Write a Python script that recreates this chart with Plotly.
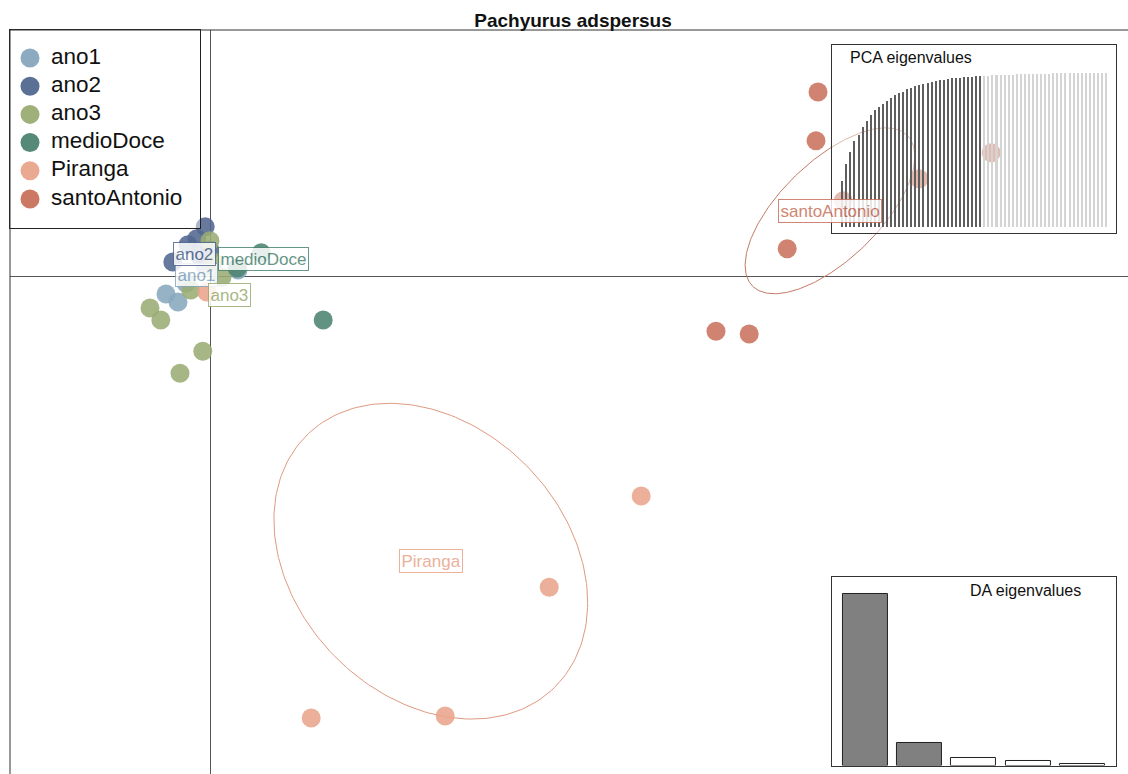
import numpy as np
import plotly.graph_objects as go

FONT = "Liberation Sans, Arial, sans-serif"

groups = ["ano1", "ano2", "ano3", "medioDoce", "Piranga", "santoAntonio"]
colors = ["#87a7bd", "#52688f", "#9aac73", "#4c8471", "#e9a48b", "#c8725c"]

# Individual scores on the first two discriminant functions
ano1_ld1 = [-1.10, -0.80, 0.70, -0.12, -0.60]
ano1_ld2 = [-0.45, -0.65, 0.15, 0.25, -0.18]
ano2_ld1 = [-0.12, -0.33, -0.55, -0.93, -0.25, 0.00]
ano2_ld2 = [1.23, 0.93, 0.78, 0.35, 0.50, 0.65]
ano3_ld1 = [-1.50, -1.23, -0.18, -0.75, 0.00, -0.48, 0.30, 0.08]
ano3_ld2 = [-0.80, -1.10, -1.88, -2.43, 0.88, -0.35, -0.03, 0.35]
medioDoce_ld1 = [2.83, 1.28, 0.68]
medioDoce_ld2 = [-1.10, 0.58, 0.20]
piranga_ld1 = [10.78, 8.48, 5.88, 2.53, -0.08]
piranga_ld2 = [-5.50, -7.78, -11.00, -11.05, -0.40]
santoAntonio_ld1 = [15.20, 15.15, 17.73, 15.83, 14.43, 12.65, 13.48, 19.53]
santoAntonio_ld2 = [4.60, 3.38, 2.43, 1.88, 0.68, -1.38, -1.45, 3.08]

# Group centroids (label positions)
centroid_ld1 = [-0.35, -0.38, 0.48, 1.33, 5.52, 15.50]
centroid_ld2 = [0.03, 0.55, -0.48, 0.43, -7.13, 1.63]

# Inertia ellipses: semi-axes and rotation (degrees)
ellipse_groups = ["Piranga", "santoAntonio"]
ellipse_a = [4.42, 2.70]
ellipse_b = [3.38, 1.23]
ellipse_angle = [-45.7, 44]
ellipse_colors = ["#df9a80", "#c27a66"]

# Cumulative variance of retained (dark) and discarded (light) PCs
pca_retained = [0.30, 0.41, 0.49, 0.56, 0.60, 0.65, 0.69, 0.73, 0.76, 0.78,
                0.80, 0.82, 0.84, 0.86, 0.87, 0.88, 0.895, 0.905, 0.915, 0.923,
                0.931, 0.938, 0.944, 0.949, 0.954, 0.958, 0.962, 0.965, 0.968,
                0.971, 0.973, 0.975, 0.977, 0.979, 0.980]
pca_discarded = [0.982, 0.983, 0.985, 0.986, 0.987, 0.988, 0.989, 0.990, 0.991,
                 0.992, 0.993, 0.994, 0.995, 0.995, 0.996, 0.997, 0.997, 0.998,
                 0.998, 0.999, 0.999, 0.999, 1.0, 1.0, 1.0, 1.0, 1.0, 1.0, 1.0,
                 1.0, 1.0]

# Discriminant analysis eigenvalues
da_eig = [85.6, 11.3, 3.8, 2.3, 0.8]
da_retained = 2

scores = [
    (ano1_ld1, ano1_ld2),
    (ano2_ld1, ano2_ld2),
    (ano3_ld1, ano3_ld2),
    (medioDoce_ld1, medioDoce_ld2),
    (piranga_ld1, piranga_ld2),
    (santoAntonio_ld1, santoAntonio_ld2),
]

fig = go.Figure()

# ellipses
t = np.linspace(0, 2 * np.pi, 240)
for g, a, b, ang, col in zip(ellipse_groups, ellipse_a, ellipse_b,
                             ellipse_angle, ellipse_colors):
    i = groups.index(g)
    th = np.deg2rad(ang)
    ex = a * np.cos(t) * np.cos(th) - b * np.sin(t) * np.sin(th) + centroid_ld1[i]
    ey = a * np.cos(t) * np.sin(th) + b * np.sin(t) * np.cos(th) + centroid_ld2[i]
    fig.add_trace(go.Scatter(x=ex, y=ey, mode="lines",
                             line=dict(color=col, width=1),
                             showlegend=False, hoverinfo="skip"))

# individuals
for g, col, (x, y) in zip(groups, colors, scores):
    fig.add_trace(go.Scatter(
        x=x, y=y, mode="markers", name=g, showlegend=False,
        marker=dict(color=col, size=19, opacity=0.88, line=dict(width=0)),
    ))

# PCA eigenvalues inset
n_ret = len(pca_retained)
pca_all = pca_retained + pca_discarded
pca_cols = ["#5e5e5e"] * n_ret + ["#d4d4d4"] * len(pca_discarded)
fig.add_trace(go.Bar(
    x=list(range(1, len(pca_all) + 1)), y=pca_all,
    marker=dict(color=pca_cols, line=dict(width=0)), width=0.5,
    xaxis="x2", yaxis="y2", showlegend=False, hoverinfo="skip"))

# DA eigenvalues inset
da_cols = ["#808080" if i < da_retained else "white" for i in range(len(da_eig))]
fig.add_trace(go.Bar(
    x=list(range(1, len(da_eig) + 1)), y=da_eig,
    marker=dict(color=da_cols, line=dict(color="#222", width=1)), width=0.83,
    xaxis="x3", yaxis="y3", showlegend=False, hoverinfo="skip"))

# legend box (its own small panel in the top-left corner)
row_y = [28 + 28.2 * i for i in range(len(groups))]
fig.add_trace(go.Scatter(
    x=[20] * len(groups), y=row_y, mode="markers",
    marker=dict(color=colors, size=19, opacity=0.95),
    xaxis="x4", yaxis="y4", showlegend=False, hoverinfo="skip"))
fig.add_trace(go.Scatter(
    x=[41] * len(groups), y=row_y, mode="text", text=groups,
    textposition="middle right",
    textfont=dict(family=FONT, size=22.5, color="#111"),
    xaxis="x4", yaxis="y4", showlegend=False, hoverinfo="skip"))

annotations = []
for g, col, cx, cy in zip(groups, colors, centroid_ld1, centroid_ld2):
    annotations.append(dict(
        x=cx, y=cy, xref="x", yref="y", text=g, showarrow=False,
        font=dict(family=FONT, size=17, color=col), opacity=0.85,
        bgcolor="white", bordercolor=col, borderwidth=1, borderpad=1.5))

annotations += [
    dict(text="PCA eigenvalues", xref="paper", yref="paper",
         x=0.7496, y=0.9624, xanchor="left", yanchor="middle",
         showarrow=False, font=dict(family=FONT, size=16, color="#111")),
    dict(text="DA eigenvalues", xref="paper", yref="paper",
         x=0.9079, y=0.246, xanchor="center", yanchor="middle",
         showarrow=False, font=dict(family=FONT, size=16, color="#111")),
]

inset_axis = dict(showline=True, mirror=True, linecolor="#333", linewidth=1,
                  showticklabels=False, ticks="", showgrid=False,
                  zeroline=False, fixedrange=True)

fig.update_layout(
    width=1128, height=774,
    margin=dict(l=10, r=0, t=30, b=0),
    paper_bgcolor="white",
    plot_bgcolor="rgba(255,255,255,0.45)",
    showlegend=False,
    title=dict(text="<b>Pachyurus adspersus</b>", x=0.5036, xref="paper",
               xanchor="center", y=0.974, yanchor="middle",
               font=dict(family=FONT, size=19, color="#111")),
    xaxis=dict(range=[-5.0, 22.95], showgrid=False, showticklabels=False,
               ticks="", zeroline=True, zerolinecolor="#555",
               zerolinewidth=1, showline=False),
    yaxis=dict(range=[-12.45, 6.15], showgrid=False, showticklabels=False,
               ticks="", zeroline=True, zerolinecolor="#555",
               zerolinewidth=1, showline=False),
    xaxis2=dict(domain=[0.7352, 0.9890], range=[-1.54, 68.39], anchor="y2",
                **inset_axis),
    yaxis2=dict(domain=[0.7267, 0.9798], range=[-0.039, 1.182], anchor="x2",
                **inset_axis),
    xaxis3=dict(domain=[0.7352, 0.9890], range=[0.38, 5.62], anchor="y3",
                **inset_axis),
    yaxis3=dict(domain=[0.0114, 0.2648], range=[0, max(da_eig) * 1.0975],
                anchor="x3", **inset_axis),
    xaxis4=dict(domain=[0, 0.17], range=[0, 190], anchor="y4",
                **{**inset_axis, "linecolor": "#222"}),
    yaxis4=dict(domain=[0.7339, 1], range=[198, 0], anchor="x4",
                **{**inset_axis, "linecolor": "#222"}),
    shapes=[
        dict(type="line", xref="paper", yref="paper", x0=0, x1=1, y0=1, y1=1,
             line=dict(color="#333", width=1)),
        dict(type="line", xref="paper", yref="paper", x0=0, x1=0, y0=0, y1=1,
             line=dict(color="#333", width=1)),
    ],
    annotations=annotations,
    bargap=0,
)

fig.write_html("out.html")
